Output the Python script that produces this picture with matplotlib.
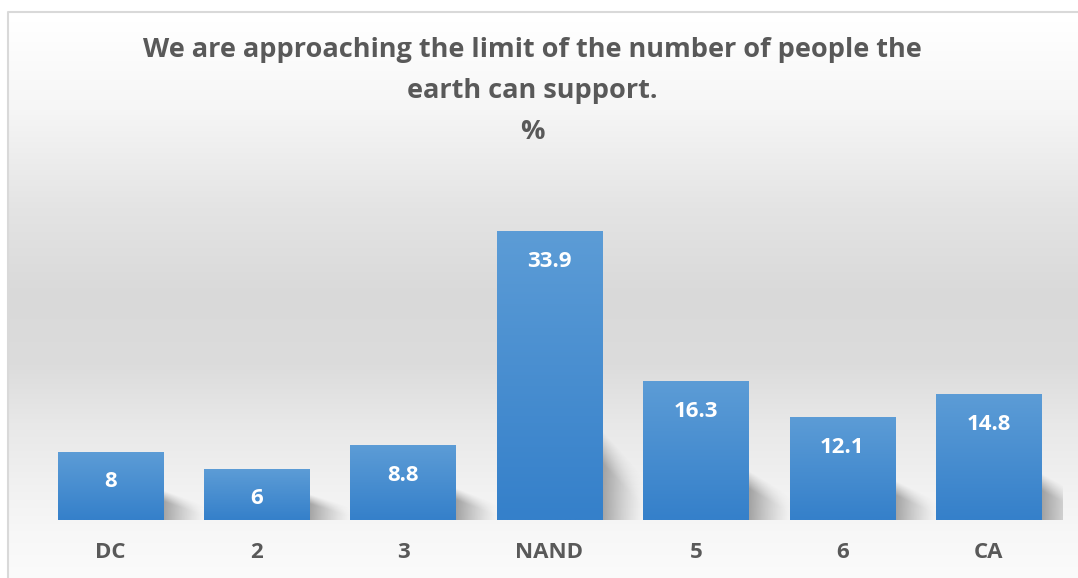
#!/usr/bin/env python3
"""
Bar chart: 'We are approaching the limit of the number of people the earth can support.'
"""

import matplotlib
matplotlib.use("Agg")
import matplotlib.pyplot as plt
import numpy as np
from matplotlib.colors import to_rgb

plt.rcParams['font.family'] = ['Open Sans', 'DejaVu Sans']

# Data
categories = ['DC', '2', '3', 'NAND', '5', '6', 'CA']
values = [8, 6, 8.8, 33.9, 16.3, 12.1, 14.8]
title_text = 'We are approaching the limit of the number of people the\nearth can support.\n%'

W, H = 1078, 578
fig = plt.figure(figsize=(W / 100, H / 100), dpi=100)
fig.patch.set_facecolor('white')

# Background panel with vertical grey gradient (white -> grey -> white)
bg = fig.add_axes([0, 0, 1, 1], zorder=0)
bg.set_xlim(0, W)
bg.set_ylim(H, 0)
bg.axis('off')
rows = np.arange(H)
stops_y = [11, 100, 200, 290, 360, 420, 490, 530, 578]
stops_c = [255, 246, 228, 217, 220, 232, 242, 247, 251]
shade = np.interp(rows, stops_y, stops_c) / 255.0
grad = np.repeat(shade[:, None], 3, axis=1)[:, None, :]
bg.imshow(grad, extent=[7, W, H, 11], aspect='auto', interpolation='bilinear')
# thin border (left and top visible)
bg.plot([7.5, 7.5, W], [H, 11.5, 11.5], color='#d9d9d9', lw=1.5, solid_capstyle='butt')

# Title
fig.text(532 / W, 1 - 37 / H, title_text, ha='center', va='top', fontsize=19.5,
         fontweight='bold', color='#595959', linespacing=1.75)

# Main axes
ax = fig.add_axes([37 / W, 58 / H, 1025 / W, 340 / H], zorder=1)
ax.patch.set_alpha(0)
ax.set_xlim(-0.5, len(categories) - 0.5)
ax.set_ylim(0, 40)
for s in ax.spines.values():
    s.set_visible(False)
ax.set_yticks([])

x = np.arange(len(categories))
bars = ax.bar(x, values, width=0.72, color='none', edgecolor='none', zorder=3)

top_c = np.array(to_rgb('#5c9cd6'))
bot_c = np.array(to_rgb('#3580ca'))
t = np.linspace(0, 1, 64)[:, None]
bar_grad = (top_c * (1 - t) + bot_c * t)[:, None, :]

for rect, v in zip(bars, values):
    x0 = rect.get_x()
    x1 = x0 + rect.get_width()
    h = rect.get_height()
    # soft shadow cast to the lower right
    sw = 0.30
    sh = 0.28 * h + 1.4
    gx = np.linspace(0, 1, 80)
    gy = np.linspace(0, 1, 80)
    GX, GY = np.meshgrid(gx, gy)
    topline = 1 - 0.55 * GX
    edge = np.clip((topline - GY) / 0.35, 0, 1)
    alpha = 0.65 * (1 - GX) ** 1.3 * edge
    sh_img = np.zeros((80, 80, 4))
    sh_img[..., :3] = 0.42
    sh_img[..., 3] = alpha
    ax.imshow(sh_img, extent=[x1 - 0.02, x1 + sw, 0, sh], origin='lower',
              aspect='auto', interpolation='bilinear', zorder=2)
    # gradient fill of the bar
    ax.imshow(bar_grad, extent=[x0, x1, 0, h], origin='upper', aspect='auto',
              interpolation='bilinear', zorder=3)
    ax.annotate(f'{v:g}', (rect.get_x() + rect.get_width() / 2, h),
                xytext=(0, -21.5), textcoords='offset points', ha='center', va='center',
                fontsize=16, fontweight='bold', color='white', zorder=4)

ax.set_xticks(x)
ax.set_xticklabels(categories, fontsize=16, fontweight='bold', color='#595959')
ax.tick_params(axis='x', length=0, pad=16)

fig.savefig('out.png', dpi=100)
